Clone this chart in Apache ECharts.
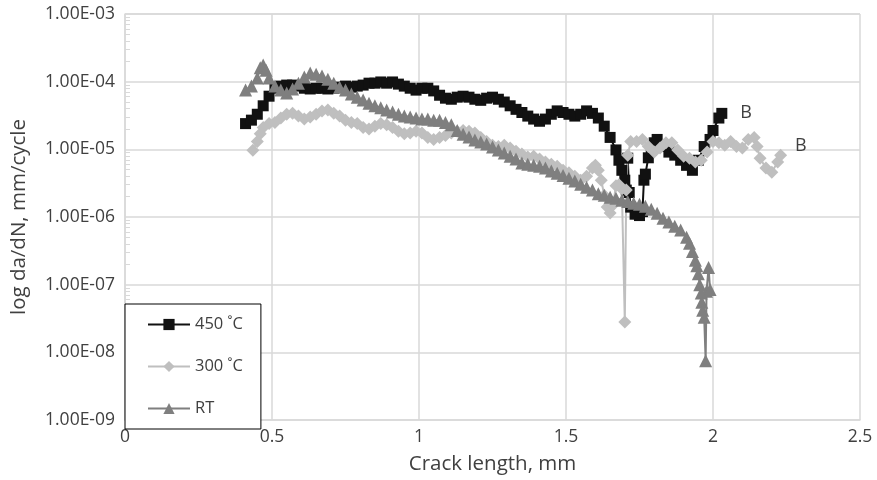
<!DOCTYPE html>
<html>
<head>
<meta charset="utf-8">
<title>da/dN vs crack length</title>
<script src="https://cdn.jsdelivr.net/npm/echarts@6/dist/echarts.min.js"></script>
<style>
  html, body { margin: 0; padding: 0; background: #fff; }
  #chart { width: 877px; height: 480px; }
</style>
</head>
<body>
<div id="chart"></div>
<script>
// crack length (mm) and da/dN (mm/cycle)
const x450 = [0.41,0.43,0.45,0.47,0.49,0.51,0.53,0.55,0.57,0.59,0.61,0.63,0.65,0.67,0.69,0.71,0.73,0.75,0.77,0.79,0.81,0.83,0.85,0.87,0.89,0.91,0.93,0.95,0.97,0.99,1.01,1.03,1.05,1.07,1.09,1.11,1.13,1.15,1.17,1.19,1.21,1.23,1.25,1.27,1.29,1.31,1.33,1.35,1.37,1.39,1.41,1.43,1.45,1.47,1.49,1.51,1.53,1.55,1.57,1.59,1.61,1.63,1.65,1.67,1.68,1.69,1.70,1.705,1.71,1.715,1.72,1.735,1.75,1.76,1.765,1.77,1.78,1.79,1.80,1.81,1.83,1.85,1.87,1.89,1.91,1.93,1.95,1.97,1.99,2.00,2.02,2.03];
const y450 = [2.4e-5,2.7e-5,3.3e-5,4.4e-5,6.1e-5,8.0e-5,8.6e-5,8.9e-5,8.9e-5,8.6e-5,8.0e-5,7.8e-5,8.0e-5,8.0e-5,7.8e-5,8.0e-5,8.3e-5,8.6e-5,8.3e-5,8.6e-5,8.9e-5,9.5e-5,9.5e-5,9.9e-5,9.5e-5,9.9e-5,9.2e-5,8.6e-5,8.0e-5,7.5e-5,8.0e-5,8.0e-5,7.3e-5,6.3e-5,5.7e-5,5.5e-5,5.9e-5,6.1e-5,5.9e-5,5.5e-5,5.3e-5,5.7e-5,5.9e-5,5.5e-5,5.0e-5,4.4e-5,3.9e-5,3.5e-5,3.1e-5,2.8e-5,2.6e-5,2.8e-5,3.3e-5,3.7e-5,3.5e-5,3.3e-5,3.1e-5,3.3e-5,3.7e-5,3.4e-5,2.9e-5,2.2e-5,1.5e-5,9.8e-6,6.9e-6,4.9e-6,3.5e-6,2.5e-6,7.4e-6,2.3e-6,1.4e-6,1.1e-6,1.05e-6,1.2e-6,3.5e-6,4.3e-6,7.5e-6,9.8e-6,1.25e-5,1.4e-5,1.1e-5,9.1e-6,8.2e-6,6.9e-6,5.8e-6,4.9e-6,6.9e-6,1.1e-5,1.4e-5,1.9e-5,2.9e-5,3.4e-5];

const x300 = [0.435,0.45,0.46,0.47,0.49,0.51,0.53,0.55,0.57,0.59,0.61,0.63,0.65,0.67,0.69,0.71,0.73,0.75,0.77,0.79,0.81,0.83,0.85,0.87,0.89,0.91,0.93,0.95,0.97,0.99,1.01,1.03,1.05,1.07,1.09,1.11,1.13,1.15,1.17,1.19,1.21,1.23,1.25,1.27,1.29,1.31,1.33,1.35,1.37,1.39,1.41,1.43,1.45,1.47,1.49,1.51,1.53,1.55,1.57,1.59,1.60,1.61,1.62,1.63,1.64,1.65,1.66,1.67,1.68,1.69,1.70,1.705,1.71,1.72,1.74,1.76,1.78,1.80,1.82,1.84,1.86,1.88,1.90,1.92,1.94,1.96,1.98,2.00,2.02,2.04,2.06,2.08,2.10,2.12,2.14,2.15,2.16,2.18,2.20,2.22,2.23];
const y300 = [9.7e-6,1.3e-5,1.7e-5,2.1e-5,2.4e-5,2.5e-5,2.9e-5,3.3e-5,3.4e-5,3.1e-5,2.8e-5,3.0e-5,3.3e-5,3.7e-5,3.8e-5,3.4e-5,3.1e-5,2.7e-5,2.5e-5,2.4e-5,2.1e-5,2.0e-5,2.2e-5,2.4e-5,2.3e-5,2.1e-5,1.85e-5,1.7e-5,1.75e-5,1.85e-5,1.75e-5,1.5e-5,1.4e-5,1.5e-5,1.6e-5,1.75e-5,1.85e-5,1.9e-5,1.85e-5,1.75e-5,1.5e-5,1.3e-5,1.15e-5,1.1e-5,1.15e-5,1.05e-5,9.4e-6,8.5e-6,7.7e-6,7.9e-6,7.2e-6,6.5e-6,6.0e-6,5.6e-6,4.9e-6,4.5e-6,4.0e-6,3.5e-6,4.0e-6,5.3e-6,5.8e-6,4.9e-6,3.5e-6,2.1e-6,1.4e-6,1.15e-6,1.5e-6,2.9e-6,3.0e-6,2.6e-6,2.8e-8,2.5e-6,8.2e-6,1.3e-5,1.3e-5,1.4e-5,1.1e-5,9.1e-6,1.05e-5,1.25e-5,1.25e-5,9.8e-6,7.9e-6,7.4e-6,6.5e-6,6.9e-6,9.1e-6,1.3e-5,1.25e-5,1.15e-5,1.3e-5,1.1e-5,1.05e-5,1.4e-5,1.5e-5,1.1e-5,7.4e-6,5.3e-6,4.6e-6,6.5e-6,8.2e-6];

const xRT = [0.41,0.43,0.45,0.46,0.47,0.48,0.49,0.51,0.53,0.55,0.57,0.59,0.61,0.63,0.65,0.67,0.69,0.71,0.73,0.75,0.77,0.79,0.81,0.83,0.85,0.87,0.89,0.91,0.93,0.95,0.97,0.99,1.01,1.03,1.05,1.07,1.09,1.11,1.13,1.15,1.17,1.19,1.21,1.23,1.25,1.27,1.29,1.31,1.33,1.35,1.37,1.39,1.41,1.43,1.45,1.47,1.49,1.51,1.53,1.55,1.57,1.59,1.61,1.63,1.65,1.67,1.69,1.71,1.73,1.75,1.77,1.79,1.81,1.83,1.85,1.87,1.89,1.91,1.92,1.93,1.94,1.945,1.95,1.955,1.96,1.962,1.965,1.97,1.975,1.978,1.985,1.99];
const yRT = [7.5e-5,8.6e-5,1.13e-4,1.6e-4,1.76e-4,1.48e-4,1.13e-4,8.6e-5,7.5e-5,6.8e-5,7.8e-5,9.5e-5,1.17e-4,1.34e-4,1.29e-4,1.21e-4,1.09e-4,9.5e-5,8.3e-5,7.5e-5,6.6e-5,5.9e-5,5.35e-5,4.8e-5,4.4e-5,4.1e-5,3.8e-5,3.55e-5,3.3e-5,3.1e-5,3.0e-5,2.9e-5,2.8e-5,2.8e-5,2.7e-5,2.7e-5,2.5e-5,2.3e-5,1.9e-5,1.67e-5,1.52e-5,1.37e-5,1.28e-5,1.2e-5,1.08e-5,9.8e-6,8.8e-6,7.9e-6,7.2e-6,6.3e-6,6.0e-6,5.8e-6,5.6e-6,5.3e-6,4.8e-6,4.45e-6,4.1e-6,3.75e-6,3.4e-6,3.05e-6,2.75e-6,2.5e-6,2.2e-6,2.1e-6,1.96e-6,1.9e-6,1.77e-6,1.7e-6,1.6e-6,1.54e-6,1.44e-6,1.3e-6,1.14e-6,9.6e-7,8.4e-7,7.3e-7,6.4e-7,5.0e-7,4.1e-7,3.1e-7,2.3e-7,1.9e-7,1.45e-7,1.0e-7,7.5e-8,5.5e-8,4.2e-8,3.3e-8,7.5e-9,8.0e-8,1.8e-7,8.5e-8];

const seriesNames = ['450 ˚C', '300 ˚C', 'RT'];
const yMinorTicks = [];
for (let e = -9; e < -3; e++) {
  for (let k = 2; k <= 9; k++) yMinorTicks.push(k * Math.pow(10, e));
}

function pairs(xs, ys, endLabel) {
  const out = xs.map((x, i) => [x, ys[i]]);
  if (endLabel) {
    const last = out.length - 1;
    out[last] = { value: out[last], label: endLabel };
  }
  return out;
}

function sciLabel(v) {
  const s = v.toExponential(2).toUpperCase();
  const parts = s.split('E');
  const exp = parseInt(parts[1], 10);
  return parts[0] + 'E' + (exp < 0 ? '-' : '+') + String(Math.abs(exp)).padStart(2, '0');
}

const font = 'Open Sans';
const txt = '#404040';
const grid = '#d9d9d9';

let myChart = echarts.init(document.getElementById('chart'));
myChart.setOption({
  animation: false,
  textStyle: { fontFamily: font },
  grid: { left: 125, right: 17, top: 14, bottom: 60, containLabel: false },
  legend: {
    data: seriesNames,
    orient: 'vertical',
    left: 125,
    top: 304,
    padding: [12, 18, 12, 22],
    itemWidth: 42,
    itemHeight: 14,
    itemGap: 25,
    borderColor: '#000',
    borderWidth: 1,
    backgroundColor: '#fff',
    textStyle: { fontFamily: font, fontSize: 16.5, color: txt }
  },
  xAxis: {
    type: 'value',
    min: 0,
    max: 2.5,
    interval: 0.5,
    name: 'Crack length, mm',
    nameLocation: 'middle',
    nameGap: 34,
    nameTextStyle: { fontFamily: font, fontSize: 20.5, color: txt },
    axisLine: { show: true, lineStyle: { color: grid, width: 1.5 } },
    axisTick: { show: false },
    axisLabel: { fontSize: 17.5, color: txt, margin: 8 },
    splitLine: { show: true, lineStyle: { color: grid, width: 1.5 } }
  },
  yAxis: [
    {
      type: 'log',
      logBase: 10,
      min: 1e-9,
      max: 1e-3,
      splitNumber: 6,
      name: 'log da/dN, mm/cycle',
      nameLocation: 'middle',
      nameGap: 95,
      nameTextStyle: { fontFamily: font, fontSize: 20.5, color: txt },
      axisLine: { show: true, lineStyle: { color: grid, width: 1.5 } },
      axisTick: { show: false },
      axisLabel: { fontSize: 17.5, color: txt, margin: 10, formatter: sciLabel },
      splitLine: { show: true, lineStyle: { color: grid, width: 1.5 } }
    },
    {
      // minor ticks only
      type: 'log',
      logBase: 10,
      min: 1e-9,
      max: 1e-3,
      position: 'left',
      axisLine: { show: false },
      axisTick: { show: true, inside: true, length: 5, customValues: yMinorTicks, lineStyle: { color: grid, width: 1 } },
      axisLabel: { show: false },
      splitLine: { show: false }
    }
  ],
  series: [
    {
      name: seriesNames[0],
      type: 'line',
      yAxisIndex: 0,
      data: pairs(x450, y450, { show: true, formatter: 'B', position: 'right', offset: [8, 0], fontSize: 18, color: txt }),
      symbol: 'rect',
      symbolSize: 11,
      showAllSymbol: true,
      color: '#111111',
      lineStyle: { color: '#111111', width: 2 },
      itemStyle: { color: '#111111' }
    },
    {
      name: seriesNames[1],
      type: 'line',
      yAxisIndex: 0,
      data: pairs(x300, y300, { show: true, formatter: 'B', position: 'right', offset: [3, -9], fontSize: 18, color: txt }),
      symbol: 'diamond',
      symbolSize: 13,
      showAllSymbol: true,
      color: '#bfbfbf',
      lineStyle: { color: '#bfbfbf', width: 2 },
      itemStyle: { color: '#bfbfbf' }
    },
    {
      name: seriesNames[2],
      type: 'line',
      yAxisIndex: 0,
      data: pairs(xRT, yRT),
      symbol: 'triangle',
      symbolSize: 13,
      showAllSymbol: true,
      color: '#7f7f7f',
      lineStyle: { color: '#7f7f7f', width: 2 },
      itemStyle: { color: '#7f7f7f' }
    }
  ]
});
</script>
</body>
</html>
